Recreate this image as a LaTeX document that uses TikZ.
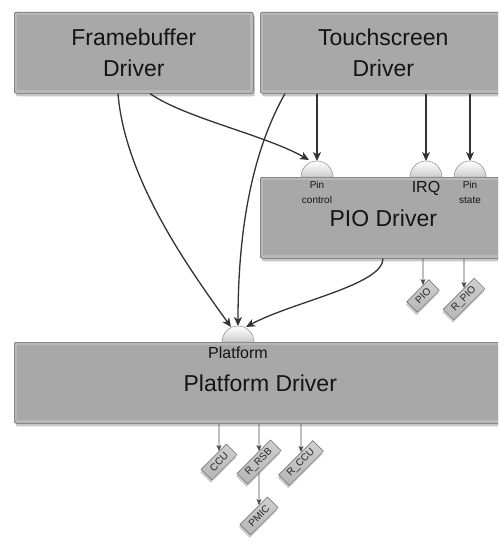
\documentclass[tikz,border=0pt]{standalone}
\usepackage{fontspec}
\setmainfont{Liberation Sans}
\usetikzlibrary{arrows.meta,shadows}
\definecolor{boxfill}{HTML}{A8A8A8}
\definecolor{boxline}{HTML}{6A6A6A}
\definecolor{boxedge}{HTML}{B8B8B8}
\definecolor{tagtop}{HTML}{CFCFCF}
\definecolor{tagbot}{HTML}{B6B6B6}
\definecolor{arrowcol}{HTML}{333333}
\definecolor{tagarrowcol}{HTML}{4A4A4A}
\definecolor{portline}{HTML}{8A8A8A}
\definecolor{portbot}{HTML}{CDCDCD}
\tikzset{
  driver/.style={draw=boxline, fill=boxfill, line width=0.6pt, rounded corners=2pt,
    anchor=north west, minimum height=81pt, inner sep=0pt, align=center,
    font=\fontsize{23}{30.7}\selectfont, text=black!92,
    drop shadow={shadow xshift=1.5pt, shadow yshift=-3pt, opacity=0.22, fill=black},
    path picture={\draw[boxedge, line width=3pt, sharp corners]
      ([shift={(1.6pt,-1.6pt)}]path picture bounding box.north west) rectangle
      ([shift={(-1.6pt,1.6pt)}]path picture bounding box.south east);}},
  tagbox/.style={draw=boxline, top color=tagtop, bottom color=tagbot, line width=0.5pt,
    rotate=45, font=\fontsize{10}{11}\selectfont, text=black!85, minimum height=15pt,
    inner xsep=7pt, inner ysep=0pt,
    general shadow={shadow xshift=-0.8pt, shadow yshift=-2.8pt, opacity=0.2, fill=black}},
  port/.style={draw=portline, line width=0.5pt, top color=white, bottom color=portbot},
  portlabel/.style={align=center, inner sep=0pt, text=black!92,
    font=\fontsize{10}{15}\selectfont},
  biglabel/.style={inner sep=0pt, text=black!92, font=\fontsize{16}{18}\selectfont},
  mainarrow/.style={draw=arrowcol, line width=1.3pt,
    -{Stealth[length=9pt,width=8pt,inset=2.5pt]}},
  tagarrow/.style={draw=tagarrowcol, line width=0.8pt,
    -{Stealth[length=6pt,width=5pt,inset=1.5pt]}}
}
\begin{document}
\begin{tikzpicture}[x=1pt,y=1pt]
\clip (0,0) rectangle (498,-543);
\fill[white] (0,0) rectangle (498,-543);

% driver boxes
\node[driver, minimum width=239pt] (fb) at (14,-12) {Framebuffer\\Driver};
\node[driver, minimum width=246pt] (ts) at (260,-12) {Touchscreen\\Driver};
\node[driver, minimum width=246pt] (pio) at (260,-177) {PIO Driver};
\node[driver, minimum width=492pt] (plat) at (14,-342) {\raisebox{-0.35ex}{Platform Driver}};

% ports on the PIO driver
\draw[port] (301,-177) arc[start angle=180, end angle=0, radius=16] -- cycle;
\draw[port] (410,-177) arc[start angle=180, end angle=0, radius=16] -- cycle;
\draw[port] (454,-177) arc[start angle=180, end angle=0, radius=16] -- cycle;
\coordinate (pinctl) at (317,-161);
\coordinate (irq) at (426,-161);
\coordinate (pinst) at (470,-161);
\node[portlabel] (pinctllbl) at (317,-192) {Pin\\control};
\node[biglabel] (irqlbl) at (426,-188) {IRQ};
\node[portlabel] (pinstlbl) at (470,-192) {Pin\\state};

% port on the platform driver
\draw[port] (222,-342) arc[start angle=180, end angle=0, radius=16] -- cycle;
\coordinate (platport) at (238,-326);
\node[biglabel] (platlbl) at (238,-353) {Platform};

% connectors between drivers
\draw[mainarrow] ([xshift=57pt]ts.south west) -- (pinctl);
\draw[mainarrow] ([xshift=166pt]ts.south west) -- (irq);
\draw[mainarrow] ([xshift=210pt]ts.south west) -- (pinst);
\draw[mainarrow] ([xshift=136pt]fb.south west)
  .. controls (185,-118) and (265,-135) .. ([xshift=-8pt,yshift=1pt]pinctl);
\draw[mainarrow] ([xshift=104pt]fb.south west)
  .. controls (125,-180) and (190,-270) .. ([xshift=-7pt,yshift=-1pt]platport);
\draw[mainarrow] ([xshift=25pt]ts.south west)
  .. controls (252,-152) and (238,-230) .. (platport);
\draw[mainarrow] ([xshift=123pt]pio.south west)
  .. controls (383,-285) and (292,-302) .. ([xshift=8pt,yshift=-1pt]platport);

% resource tags
\node[tagbox] (piotag) at (423,-296) {PIO};
\node[tagbox] (rpiotag) at (464,-299) {R\_PIO};
\node[tagbox] (ccu) at (219,-462) {CCU};
\node[tagbox] (rrsb) at (259,-462) {R\_RSB};
\node[tagbox] (rccu) at (301,-463) {R\_CCU};
\node[tagbox] (pmic) at (259,-516) {PMIC};

\draw[tagarrow] (pio.south -| piotag) -- (piotag);
\draw[tagarrow] (pio.south -| rpiotag) -- (rpiotag);
\draw[tagarrow] (plat.south -| ccu) -- (ccu);
\draw[tagarrow] (plat.south -| rrsb) -- (rrsb);
\draw[tagarrow] (plat.south -| rccu) -- (rccu);
\draw[tagarrow] (rrsb) -- (pmic);
\end{tikzpicture}
\end{document}
